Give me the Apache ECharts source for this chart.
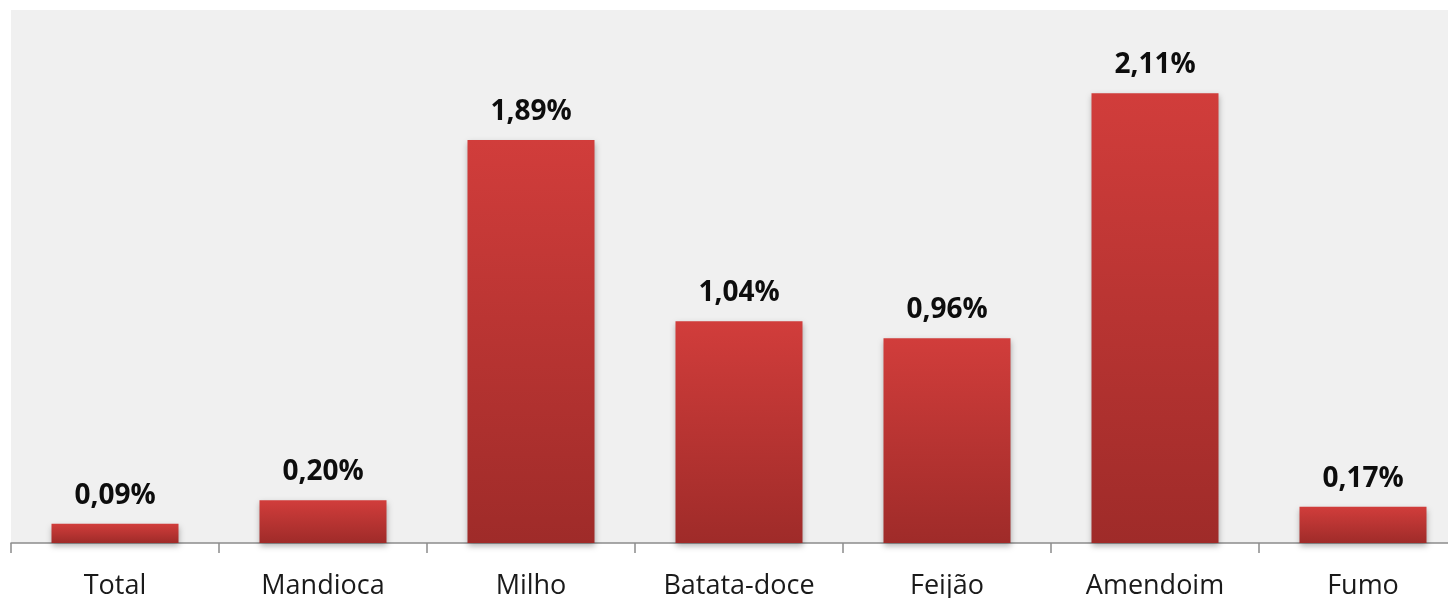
<!DOCTYPE html>
<html>
<head>
<meta charset="utf-8">
<script src="https://cdn.jsdelivr.net/npm/echarts@6/dist/echarts.min.js"></script>
<style>
  html, body { margin: 0; padding: 0; background: #ffffff; overflow: hidden; }
  #chart { width: 1448px; height: 598px; }
</style>
</head>
<body>
<div id="chart"></div>
<script>
const categories = ['Total', 'Mandioca', 'Milho', 'Batata-doce', 'Feijão', 'Amendoim', 'Fumo'];
const values = [0.09, 0.20, 1.89, 1.04, 0.96, 2.11, 0.17];

const chart = echarts.init(document.getElementById('chart'), null, { renderer: 'canvas' });

chart.setOption({
  animation: false,
  backgroundColor: '#ffffff',
  grid: {
    left: 11,
    right: -19,
    top: 10,
    bottom: 55,
    outerBoundsMode: 'none',
    containLabel: false,
    show: true,
    backgroundColor: '#f0f0f0',
    borderWidth: 0
  },
  xAxis: {
    type: 'category',
    data: categories,
    axisLine: { lineStyle: { color: '#8c8c8c', width: 1.5 } },
    axisTick: { show: true, length: 10, inside: false, lineStyle: { color: '#8c8c8c', width: 1.5 } },
    axisLabel: {
      color: '#1a1a1a',
      fontFamily: 'Open Sans',
      fontSize: 27,
      margin: 30
    }
  },
  yAxis: {
    type: 'value',
    min: 0,
    max: 2.5,
    show: false,
    splitLine: { show: false }
  },
  series: [{
    type: 'bar',
    data: values,
    barWidth: 127,
    itemStyle: {
      color: new echarts.graphic.LinearGradient(0, 0, 0, 1, [
        { offset: 0, color: '#d13d3b' },
        { offset: 1, color: '#9f2b29' }
      ]),
      shadowColor: 'rgba(0,0,0,0.3)',
      shadowBlur: 6,
      shadowOffsetY: 3
    },
    label: {
      show: true,
      position: 'top',
      distance: 14,
      color: '#0d0d0d',
      fontFamily: 'Open Sans',
      fontWeight: 'bold',
      fontSize: 28,
      formatter: (p) => p.value.toFixed(2).replace('.', ',') + '%'
    }
  }]
});
</script>
</body>
</html>
